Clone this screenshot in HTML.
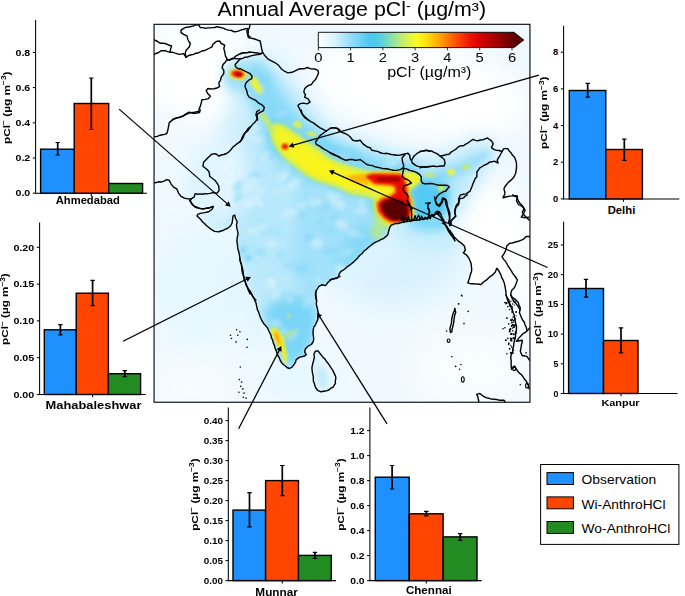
<!DOCTYPE html>
<html><head><meta charset="utf-8"><title>Annual Average pCl</title>
<style>html,body{margin:0;padding:0;background:#fff}svg{display:block}</style></head>
<body>
<svg width="685" height="596" viewBox="0 0 685 596" font-family="Liberation Sans, sans-serif" fill="#000">
<rect width="685" height="596" fill="#fff"/>
<defs><clipPath id="mc"><rect x="154.05" y="24.3" width="375.9" height="377.95"/></clipPath>
<filter id="b14" x="-50%" y="-50%" width="200%" height="200%" filterUnits="objectBoundingBox"><feGaussianBlur stdDeviation="14"/></filter>
<filter id="b9" x="-50%" y="-50%" width="200%" height="200%" filterUnits="objectBoundingBox"><feGaussianBlur stdDeviation="9"/></filter>
<filter id="b6" x="-50%" y="-50%" width="200%" height="200%" filterUnits="objectBoundingBox"><feGaussianBlur stdDeviation="6"/></filter>
<filter id="b4" x="-50%" y="-50%" width="200%" height="200%" filterUnits="objectBoundingBox"><feGaussianBlur stdDeviation="4"/></filter>
<filter id="b3" x="-50%" y="-50%" width="200%" height="200%" filterUnits="objectBoundingBox"><feGaussianBlur stdDeviation="3"/></filter>
<filter id="b2" x="-50%" y="-50%" width="200%" height="200%" filterUnits="objectBoundingBox"><feGaussianBlur stdDeviation="2"/></filter>
<filter id="b15" x="-50%" y="-50%" width="200%" height="200%" filterUnits="objectBoundingBox"><feGaussianBlur stdDeviation="1.5"/></filter>
<filter id="b1" x="-50%" y="-50%" width="200%" height="200%" filterUnits="objectBoundingBox"><feGaussianBlur stdDeviation="1"/></filter>
<filter id="b07" x="-50%" y="-50%" width="200%" height="200%" filterUnits="objectBoundingBox"><feGaussianBlur stdDeviation="0.7"/></filter>
<mask id="lm" maskUnits="userSpaceOnUse" x="150" y="20" width="385" height="386"><g filter="url(#b1)"><path d="M154.2 183.0L158.4 181.8L163.4 181.3L166.8 179.6L169.3 180.5L171.0 183.8L173.5 187.2L176.8 188.9L178.5 193.1L181.0 196.4L184.4 198.1L187.8 198.9L191.1 198.9L190.3 201.4L191.9 204.0L194.5 206.5L198.7 208.2L203.7 209.0L208.7 208.2L212.9 206.5L189.4 200.0L191.1 202.5L192.8 205.0L196.1 207.6L200.3 208.4L205.4 208.4L209.6 207.6L213.4 206.4L212.1 209.2L208.7 211.7L204.5 212.6L200.3 213.4L197.8 214.3L197.0 215.9L198.7 217.6L201.2 220.1L204.5 223.5L207.9 226.8L211.2 229.4L214.6 231.4L218.8 231.9L223.0 230.5L227.2 228.5L230.5 226.0L232.2 222.7L232.6 219.3L233.1 215.9L234.7 215.1L235.6 218.5L237.2 221.8L236.4 225.2L237.2 229.4L238.1 233.6L237.2 237.8L236.9 241.9L237.6 247.0L238.9 252.0L239.8 257.0L240.6 262.1L241.9 267.1L243.1 272.1L244.0 277.2L245.3 282.2L247.3 287.2L249.0 291.4L250.0 294.0L249.2 290.0L251.7 294.2L254.3 298.4L255.9 302.6L256.8 306.8L258.5 311.8L260.1 316.8L262.7 321.9L266.0 326.1L268.5 330.3L271.0 335.3L272.7 340.3L274.4 345.4L276.1 350.4L277.8 355.4L280.3 360.5L283.6 364.7L287.0 367.5L289.5 368.5L292.0 367.2L294.5 363.8L296.2 359.6L299.6 357.1L303.8 356.3L306.3 354.6L304.6 352.1L305.4 348.7L308.0 346.2L311.3 344.5L313.0 342.0L313.5 337.0L313.0 331.9L313.8 326.9L316.3 322.7L318.0 318.5L318.5 313.5L317.5 308.5L316.3 303.4L316.3 298.4L315.8 294.2L316.3 290.0L316.3 300.0L315.5 295.6L316.3 290.6L318.9 286.4L322.2 284.7L325.6 285.6L328.1 282.2L332.3 278.9L336.5 278.0L340.0 276.3L330.0 279.7L334.2 278.9L338.4 277.2L339.2 273.8L340.9 271.3L345.1 268.8L349.3 265.4L353.5 262.1L357.7 257.9L361.9 253.7L366.1 249.5L371.1 245.3L376.1 241.9L381.2 239.4L385.4 236.9L387.9 234.4L388.7 231.0L389.6 227.7L391.2 225.2L395.4 223.5L400.5 222.7L404.7 221.8L408.9 221.0L413.9 220.1L418.9 219.8L424.0 219.3L430.0 217.6L431.6 215.3L437.4 213.3L441.2 218.2L444.1 223.0L447.0 226.8L449.9 230.7L452.8 234.6L455.7 238.4L458.6 241.3L461.5 243.2L464.4 246.1L465.3 250.0L463.4 252.9L466.3 254.8L469.2 258.7L471.1 263.5L471.7 269.3L470.5 274.1L469.2 278.9L467.8 282.8L471.1 283.8L476.0 284.1L480.8 284.7L483.7 281.8L486.6 279.9L489.5 277.0L492.4 275.1L495.2 272.2L496.8 268.3L499.1 271.2L501.0 275.1L503.0 279.9L504.9 285.7L505.9 291.5L506.8 297.3L508.8 303.0L511.6 307.9L512.6 310.0L505.9 295.0L508.8 299.8L510.7 305.6L512.6 311.4L514.5 317.2L515.5 323.0L516.5 328.8L515.5 334.6L514.5 340.3L513.6 346.1L512.6 351.9L510.7 357.7L511.1 363.5L511.6 369.3L514.5 366.4L516.5 369.3L519.4 373.1L523.2 377.0L526.1 380.9L528.0 384.7L529.0 388.6L531.0 389.0L531.0 23.0L153.0 23.0L153.0 183.0Z" fill="#fff"/><path d="M315.9 351.0L318.1 351.0L320.4 354.0L323.4 357.8L326.4 361.5L329.5 365.3L332.5 369.8L334.7 374.4L335.8 378.9L335.5 383.4L333.2 387.2L329.5 389.5L324.9 391.0L321.1 391.8L318.1 390.7L315.9 388.0L314.4 383.4L313.3 378.9L312.8 374.4L312.1 369.8L312.4 365.3L313.6 360.8L314.4 357.0L313.9 354.0L315.1 351.7L315.9 351.0Z" fill="#fff"/></g></mask>
</defs>
<g clip-path="url(#mc)">
<rect x="153" y="23.3" width="378" height="380" fill="#eff9ff"/>
<g filter="url(#b14)">
<ellipse cx="405" cy="262" rx="62" ry="42" fill="#d9f2fd" fill-opacity="1" transform="rotate(-20 405 262)"/>
<ellipse cx="200" cy="285" rx="50" ry="60" fill="#e6f7fe" fill-opacity="1" transform="rotate(0 200 285)"/>
<ellipse cx="470" cy="370" rx="60" ry="40" fill="#f8fdff" fill-opacity="1" transform="rotate(0 470 370)"/>
<ellipse cx="190" cy="385" rx="40" ry="25" fill="#f6fcff" fill-opacity="1" transform="rotate(0 190 385)"/>
</g>
<g filter="url(#b9)">
<ellipse cx="425" cy="232" rx="38" ry="18" fill="#c4ecfc" fill-opacity="1" transform="rotate(10 425 232)"/>
<ellipse cx="365" cy="262" rx="40" ry="14" fill="#dcf4fd" fill-opacity="1" transform="rotate(-38 365 262)"/>
<ellipse cx="250" cy="300" rx="14" ry="50" fill="#e2f6fe" fill-opacity="1" transform="rotate(-12 250 300)"/>
<ellipse cx="300" cy="380" rx="35" ry="18" fill="#e6f7fe" fill-opacity="1" transform="rotate(0 300 380)"/>
</g>
<g filter="url(#b4)"><ellipse cx="428" cy="222" rx="22" ry="9" fill="#7ed8f8" fill-opacity="1" transform="rotate(5 428 222)"/></g>
<g mask="url(#lm)">
<g filter="url(#b14)">
<ellipse cx="200" cy="70" rx="60" ry="50" fill="#ffffff" fill-opacity="1" transform="rotate(0 200 70)"/>
<ellipse cx="420" cy="90" rx="110" ry="45" fill="#ffffff" fill-opacity="1" transform="rotate(10 420 90)"/>
<ellipse cx="490" cy="260" rx="45" ry="80" fill="#ffffff" fill-opacity="1" transform="rotate(0 490 260)"/>
<ellipse cx="430" cy="350" rx="70" ry="50" fill="#f8fdff" fill-opacity="1" transform="rotate(0 430 350)"/>
<path d="M240.0 62.0L262.0 58.0L300.0 100.0L325.0 135.0L400.0 160.0L440.0 165.0L480.0 140.0L492.0 150.0L470.0 185.0L450.0 222.0L435.0 215.0L400.0 228.0L380.0 243.0L350.0 272.0L322.0 292.0L318.0 320.0L314.0 345.0L300.0 362.0L290.0 370.0L280.0 362.0L268.0 330.0L255.0 295.0L240.0 260.0L235.0 225.0L225.0 232.0L200.0 215.0L215.0 200.0L195.0 195.0L215.0 150.0L240.0 140.0L258.0 115.0L245.0 90.0Z" fill="#b4e7fb" fill-opacity="1"/>
</g>
<g filter="url(#b3)"><ellipse cx="322" cy="378" rx="6" ry="12" fill="#c0eafb" fill-opacity="1" transform="rotate(-15 322 378)"/></g>
<g filter="url(#b9)">
<path d="M235.0 70.0L255.0 85.0L262.0 115.0L240.0 140.0L215.0 170.0L200.0 195.0L190.0 190.0L205.0 160.0L225.0 125.0L232.0 95.0Z" fill="#cfeffc" fill-opacity="1"/>
<path d="M240.0 62.0L262.0 58.0L300.0 100.0L325.0 135.0L400.0 160.0L440.0 165.0L480.0 140.0L492.0 150.0L470.0 185.0L450.0 222.0L435.0 215.0L400.0 228.0L380.0 243.0L350.0 272.0L322.0 292.0L318.0 320.0L314.0 345.0L300.0 362.0L290.0 370.0L280.0 362.0L268.0 330.0L255.0 295.0L240.0 260.0L235.0 225.0L225.0 232.0L200.0 215.0L215.0 200.0L195.0 195.0L215.0 150.0L240.0 140.0L258.0 115.0L245.0 90.0Z" fill="#b9e9fb" fill-opacity="0.8"/>
<ellipse cx="222" cy="180" rx="26" ry="42" fill="#e6f7fe" fill-opacity="0.9" transform="rotate(10 222 180)"/>
<path d="M330.0 285.0L360.0 262.0L390.0 235.0L430.0 225.0L450.0 240.0L440.0 270.0L400.0 290.0L360.0 310.0Z" fill="#d5f2fd" fill-opacity="1"/>
</g>
<g filter="url(#b6)">
<path d="M238.0 62.0L262.0 62.0L285.0 98.0L300.0 118.0L318.0 135.0L300.0 150.0L280.0 160.0L268.0 150.0L262.0 125.0L250.0 100.0L240.0 82.0Z" fill="#8adaf8" fill-opacity="1"/>
<path d="M300.0 180.0L340.0 195.0L375.0 205.0L385.0 232.0L372.0 250.0L350.0 270.0L330.0 285.0L318.0 300.0L300.0 290.0L290.0 260.0L295.0 225.0Z" fill="#a2e1fa" fill-opacity="1"/>
<ellipse cx="234" cy="78" rx="11" ry="13" fill="#9adff9" fill-opacity="1" transform="rotate(-20 234 78)"/>
<path d="M300.0 118.0L330.0 140.0L380.0 160.0L420.0 165.0L425.0 175.0L400.0 172.0L360.0 168.0L330.0 158.0L305.0 140.0Z" fill="#7cd6f7" fill-opacity="1"/>
<path d="M262.0 310.0L285.0 296.0L312.0 298.0L318.0 320.0L312.0 345.0L300.0 362.0L290.0 368.0L280.0 358.0Z" fill="#7ad5f7" fill-opacity="1"/>
<path d="M355.0 225.0L385.0 228.0L380.0 245.0L350.0 268.0L335.0 262.0Z" fill="#84d9f8" fill-opacity="1"/>
<ellipse cx="243" cy="250" rx="4" ry="8" fill="#8adaf8" fill-opacity="1" transform="rotate(0 243 250)"/>
</g>
<g filter="url(#b2)"><ellipse cx="248" cy="258" rx="2.5" ry="2.5" fill="#50c8f4" fill-opacity="1" transform="rotate(0 248 258)"/><ellipse cx="243" cy="250" rx="2" ry="2" fill="#50c8f4" fill-opacity="1" transform="rotate(0 243 250)"/></g>
<g filter="url(#b2)"><ellipse cx="330.4" cy="231.2" rx="8.5" ry="3.4" fill="#6fd2f7" fill-opacity="0.2" transform="rotate(-14 330.4 231.2)"/><ellipse cx="347.1" cy="252.1" rx="7.8" ry="2.3" fill="#ffffff" fill-opacity="0.36" transform="rotate(-33 347.1 252.1)"/><ellipse cx="247.6" cy="69.0" rx="6.2" ry="2.2" fill="#ffffff" fill-opacity="0.19" transform="rotate(-43 247.6 69.0)"/><ellipse cx="333.6" cy="195.7" rx="8.1" ry="3.6" fill="#ffffff" fill-opacity="0.33" transform="rotate(-2 333.6 195.7)"/><ellipse cx="331.8" cy="147.3" rx="9.0" ry="5.0" fill="#6fd2f7" fill-opacity="0.23" transform="rotate(16 331.8 147.3)"/><ellipse cx="267.9" cy="150.6" rx="3.4" ry="4.3" fill="#6fd2f7" fill-opacity="0.25" transform="rotate(-24 267.9 150.6)"/><ellipse cx="227.8" cy="163.5" rx="8.8" ry="4.3" fill="#ffffff" fill-opacity="0.2" transform="rotate(-49 227.8 163.5)"/><ellipse cx="253.3" cy="231.1" rx="5.7" ry="2.6" fill="#ffffff" fill-opacity="0.32" transform="rotate(6 253.3 231.1)"/><ellipse cx="236.1" cy="189.8" rx="4.3" ry="2.8" fill="#6fd2f7" fill-opacity="0.23" transform="rotate(27 236.1 189.8)"/><ellipse cx="275.9" cy="294.6" rx="5.0" ry="2.9" fill="#ffffff" fill-opacity="0.31" transform="rotate(-53 275.9 294.6)"/><ellipse cx="271.6" cy="243.6" rx="5.2" ry="3.4" fill="#ffffff" fill-opacity="0.31" transform="rotate(26 271.6 243.6)"/><ellipse cx="372.8" cy="190.0" rx="3.6" ry="2.1" fill="#ffffff" fill-opacity="0.34" transform="rotate(27 372.8 190.0)"/><ellipse cx="275.5" cy="309.8" rx="6.6" ry="2.9" fill="#6fd2f7" fill-opacity="0.17" transform="rotate(-44 275.5 309.8)"/><ellipse cx="267.5" cy="231.1" rx="8.1" ry="3.8" fill="#6fd2f7" fill-opacity="0.2" transform="rotate(-35 267.5 231.1)"/><ellipse cx="252.9" cy="174.3" rx="6.4" ry="2.4" fill="#6fd2f7" fill-opacity="0.4" transform="rotate(-27 252.9 174.3)"/><ellipse cx="382.0" cy="208.1" rx="7.4" ry="3.0" fill="#ffffff" fill-opacity="0.3" transform="rotate(30 382.0 208.1)"/><ellipse cx="302.2" cy="268.5" rx="8.4" ry="4.6" fill="#6fd2f7" fill-opacity="0.37" transform="rotate(-22 302.2 268.5)"/><ellipse cx="310.7" cy="238.0" rx="6.7" ry="2.2" fill="#6fd2f7" fill-opacity="0.37" transform="rotate(-2 310.7 238.0)"/><ellipse cx="407.8" cy="180.2" rx="7.4" ry="3.7" fill="#6fd2f7" fill-opacity="0.17" transform="rotate(-20 407.8 180.2)"/><ellipse cx="372.2" cy="207.7" rx="4.4" ry="4.1" fill="#6fd2f7" fill-opacity="0.38" transform="rotate(-15 372.2 207.7)"/><ellipse cx="287.9" cy="266.5" rx="4.2" ry="2.5" fill="#6fd2f7" fill-opacity="0.26" transform="rotate(22 287.9 266.5)"/><ellipse cx="311.3" cy="238.2" rx="4.9" ry="2.4" fill="#6fd2f7" fill-opacity="0.36" transform="rotate(-15 311.3 238.2)"/><ellipse cx="281.1" cy="114.9" rx="5.7" ry="2.8" fill="#ffffff" fill-opacity="0.32" transform="rotate(-41 281.1 114.9)"/><ellipse cx="342.0" cy="158.4" rx="8.0" ry="4.9" fill="#ffffff" fill-opacity="0.19" transform="rotate(-19 342.0 158.4)"/><ellipse cx="290.1" cy="300.2" rx="3.1" ry="2.4" fill="#ffffff" fill-opacity="0.36" transform="rotate(-19 290.1 300.2)"/><ellipse cx="270.0" cy="106.5" rx="3.3" ry="3.9" fill="#6fd2f7" fill-opacity="0.31" transform="rotate(-20 270.0 106.5)"/><ellipse cx="279.8" cy="167.5" rx="7.2" ry="3.6" fill="#6fd2f7" fill-opacity="0.25" transform="rotate(-5 279.8 167.5)"/><ellipse cx="330.7" cy="250.8" rx="8.5" ry="3.1" fill="#6fd2f7" fill-opacity="0.35" transform="rotate(-9 330.7 250.8)"/><ellipse cx="293.3" cy="335.5" rx="8.1" ry="3.0" fill="#ffffff" fill-opacity="0.3" transform="rotate(-53 293.3 335.5)"/><ellipse cx="419.1" cy="209.7" rx="3.2" ry="4.4" fill="#6fd2f7" fill-opacity="0.19" transform="rotate(-54 419.1 209.7)"/><ellipse cx="297.4" cy="299.2" rx="3.8" ry="2.4" fill="#6fd2f7" fill-opacity="0.36" transform="rotate(-14 297.4 299.2)"/><ellipse cx="351.2" cy="150.9" rx="7.4" ry="3.9" fill="#6fd2f7" fill-opacity="0.29" transform="rotate(-13 351.2 150.9)"/><ellipse cx="290.9" cy="178.0" rx="8.1" ry="4.7" fill="#6fd2f7" fill-opacity="0.39" transform="rotate(-41 290.9 178.0)"/><ellipse cx="350.6" cy="235.1" rx="4.2" ry="3.6" fill="#6fd2f7" fill-opacity="0.16" transform="rotate(-15 350.6 235.1)"/><ellipse cx="361.4" cy="210.7" rx="7.1" ry="2.2" fill="#ffffff" fill-opacity="0.39" transform="rotate(-12 361.4 210.7)"/><ellipse cx="292.4" cy="121.5" rx="6.7" ry="4.8" fill="#6fd2f7" fill-opacity="0.16" transform="rotate(-48 292.4 121.5)"/><ellipse cx="257.9" cy="132.2" rx="7.1" ry="3.0" fill="#6fd2f7" fill-opacity="0.18" transform="rotate(-28 257.9 132.2)"/><ellipse cx="258.9" cy="222.4" rx="5.6" ry="3.1" fill="#6fd2f7" fill-opacity="0.19" transform="rotate(-23 258.9 222.4)"/><ellipse cx="260.7" cy="252.5" rx="6.8" ry="3.6" fill="#6fd2f7" fill-opacity="0.36" transform="rotate(17 260.7 252.5)"/><ellipse cx="268.7" cy="285.1" rx="7.9" ry="4.7" fill="#ffffff" fill-opacity="0.38" transform="rotate(-32 268.7 285.1)"/><ellipse cx="270.6" cy="280.9" rx="4.6" ry="2.3" fill="#ffffff" fill-opacity="0.35" transform="rotate(15 270.6 280.9)"/><ellipse cx="238.8" cy="184.5" rx="7.1" ry="2.1" fill="#6fd2f7" fill-opacity="0.38" transform="rotate(-42 238.8 184.5)"/><ellipse cx="256.4" cy="85.5" rx="3.6" ry="2.1" fill="#6fd2f7" fill-opacity="0.29" transform="rotate(-10 256.4 85.5)"/><ellipse cx="334.5" cy="218.0" rx="5.6" ry="3.8" fill="#6fd2f7" fill-opacity="0.36" transform="rotate(-59 334.5 218.0)"/><ellipse cx="254.3" cy="199.7" rx="7.4" ry="3.2" fill="#ffffff" fill-opacity="0.29" transform="rotate(-42 254.3 199.7)"/><ellipse cx="316.9" cy="243.1" rx="6.0" ry="4.9" fill="#ffffff" fill-opacity="0.38" transform="rotate(12 316.9 243.1)"/><ellipse cx="432.1" cy="185.3" rx="8.4" ry="4.6" fill="#6fd2f7" fill-opacity="0.34" transform="rotate(3 432.1 185.3)"/><ellipse cx="317.3" cy="279.7" rx="3.4" ry="3.0" fill="#ffffff" fill-opacity="0.26" transform="rotate(-18 317.3 279.7)"/><ellipse cx="390.4" cy="165.1" rx="7.0" ry="3.7" fill="#ffffff" fill-opacity="0.4" transform="rotate(-12 390.4 165.1)"/><ellipse cx="258.3" cy="176.4" rx="3.6" ry="2.8" fill="#6fd2f7" fill-opacity="0.28" transform="rotate(22 258.3 176.4)"/><ellipse cx="248.3" cy="205.0" rx="4.0" ry="3.5" fill="#ffffff" fill-opacity="0.39" transform="rotate(-5 248.3 205.0)"/><ellipse cx="321.5" cy="221.4" rx="6.6" ry="3.1" fill="#6fd2f7" fill-opacity="0.29" transform="rotate(-34 321.5 221.4)"/><ellipse cx="283.0" cy="277.9" rx="4.8" ry="2.0" fill="#ffffff" fill-opacity="0.21" transform="rotate(-38 283.0 277.9)"/><ellipse cx="415.2" cy="180.6" rx="8.4" ry="4.2" fill="#6fd2f7" fill-opacity="0.39" transform="rotate(-55 415.2 180.6)"/><ellipse cx="324.0" cy="206.7" rx="8.8" ry="2.7" fill="#6fd2f7" fill-opacity="0.33" transform="rotate(-13 324.0 206.7)"/><ellipse cx="238.3" cy="196.4" rx="7.0" ry="3.4" fill="#6fd2f7" fill-opacity="0.25" transform="rotate(-36 238.3 196.4)"/><ellipse cx="304.2" cy="145.4" rx="7.1" ry="3.7" fill="#6fd2f7" fill-opacity="0.34" transform="rotate(-7 304.2 145.4)"/><ellipse cx="256.7" cy="138.6" rx="8.9" ry="4.7" fill="#ffffff" fill-opacity="0.19" transform="rotate(19 256.7 138.6)"/><ellipse cx="279.4" cy="191.1" rx="6.7" ry="2.3" fill="#ffffff" fill-opacity="0.2" transform="rotate(-11 279.4 191.1)"/><ellipse cx="380.6" cy="175.6" rx="5.9" ry="2.6" fill="#6fd2f7" fill-opacity="0.36" transform="rotate(-29 380.6 175.6)"/><ellipse cx="322.5" cy="141.4" rx="7.9" ry="3.1" fill="#6fd2f7" fill-opacity="0.23" transform="rotate(-1 322.5 141.4)"/><ellipse cx="339.5" cy="268.6" rx="4.8" ry="4.3" fill="#ffffff" fill-opacity="0.33" transform="rotate(-53 339.5 268.6)"/><ellipse cx="226.3" cy="155.0" rx="7.3" ry="4.1" fill="#ffffff" fill-opacity="0.26" transform="rotate(-35 226.3 155.0)"/><ellipse cx="407.2" cy="173.6" rx="3.7" ry="4.1" fill="#6fd2f7" fill-opacity="0.38" transform="rotate(-9 407.2 173.6)"/><ellipse cx="292.6" cy="183.5" rx="8.6" ry="4.7" fill="#ffffff" fill-opacity="0.26" transform="rotate(-38 292.6 183.5)"/><ellipse cx="305.4" cy="182.3" rx="5.3" ry="2.6" fill="#6fd2f7" fill-opacity="0.29" transform="rotate(-9 305.4 182.3)"/><ellipse cx="356.2" cy="233.5" rx="8.8" ry="4.0" fill="#ffffff" fill-opacity="0.3" transform="rotate(12 356.2 233.5)"/><ellipse cx="272.3" cy="130.2" rx="7.6" ry="3.6" fill="#ffffff" fill-opacity="0.25" transform="rotate(9 272.3 130.2)"/><ellipse cx="342.0" cy="224.5" rx="7.3" ry="4.1" fill="#ffffff" fill-opacity="0.36" transform="rotate(22 342.0 224.5)"/><ellipse cx="383.1" cy="220.5" rx="7.3" ry="4.4" fill="#ffffff" fill-opacity="0.21" transform="rotate(-22 383.1 220.5)"/><ellipse cx="260.8" cy="191.1" rx="4.8" ry="4.9" fill="#ffffff" fill-opacity="0.21" transform="rotate(-55 260.8 191.1)"/><ellipse cx="253.8" cy="83.1" rx="5.8" ry="3.8" fill="#ffffff" fill-opacity="0.2" transform="rotate(22 253.8 83.1)"/><ellipse cx="255.2" cy="129.2" rx="4.4" ry="4.2" fill="#ffffff" fill-opacity="0.22" transform="rotate(-6 255.2 129.2)"/><ellipse cx="282.3" cy="115.9" rx="7.5" ry="2.9" fill="#6fd2f7" fill-opacity="0.27" transform="rotate(-11 282.3 115.9)"/><ellipse cx="276.5" cy="328.8" rx="8.5" ry="3.0" fill="#6fd2f7" fill-opacity="0.27" transform="rotate(-11 276.5 328.8)"/><ellipse cx="265.4" cy="79.3" rx="8.7" ry="4.4" fill="#6fd2f7" fill-opacity="0.28" transform="rotate(-25 265.4 79.3)"/><ellipse cx="307.7" cy="301.8" rx="7.3" ry="3.8" fill="#ffffff" fill-opacity="0.25" transform="rotate(-46 307.7 301.8)"/><ellipse cx="276.2" cy="323.4" rx="6.1" ry="3.9" fill="#ffffff" fill-opacity="0.3" transform="rotate(29 276.2 323.4)"/><ellipse cx="338.2" cy="204.1" rx="8.7" ry="3.8" fill="#ffffff" fill-opacity="0.35" transform="rotate(17 338.2 204.1)"/><ellipse cx="261.9" cy="226.3" rx="6.2" ry="2.5" fill="#ffffff" fill-opacity="0.25" transform="rotate(15 261.9 226.3)"/><ellipse cx="224.7" cy="155.5" rx="5.8" ry="4.1" fill="#6fd2f7" fill-opacity="0.18" transform="rotate(-28 224.7 155.5)"/><ellipse cx="314.1" cy="202.0" rx="8.8" ry="4.5" fill="#ffffff" fill-opacity="0.26" transform="rotate(-1 314.1 202.0)"/><ellipse cx="361.8" cy="200.9" rx="3.1" ry="5.0" fill="#ffffff" fill-opacity="0.32" transform="rotate(12 361.8 200.9)"/><ellipse cx="284.9" cy="176.5" rx="6.2" ry="2.9" fill="#ffffff" fill-opacity="0.33" transform="rotate(-30 284.9 176.5)"/><ellipse cx="275.4" cy="124.0" rx="7.4" ry="3.0" fill="#6fd2f7" fill-opacity="0.33" transform="rotate(25 275.4 124.0)"/><ellipse cx="296.5" cy="310.8" rx="3.6" ry="2.4" fill="#6fd2f7" fill-opacity="0.33" transform="rotate(-52 296.5 310.8)"/><ellipse cx="253.9" cy="184.3" rx="8.0" ry="3.8" fill="#ffffff" fill-opacity="0.21" transform="rotate(-52 253.9 184.3)"/><ellipse cx="238.2" cy="185.7" rx="3.4" ry="4.8" fill="#6fd2f7" fill-opacity="0.31" transform="rotate(-22 238.2 185.7)"/><ellipse cx="311.7" cy="163.2" rx="5.5" ry="2.0" fill="#6fd2f7" fill-opacity="0.4" transform="rotate(-24 311.7 163.2)"/><ellipse cx="296.3" cy="166.4" rx="6.9" ry="2.3" fill="#6fd2f7" fill-opacity="0.35" transform="rotate(-26 296.3 166.4)"/><ellipse cx="302.4" cy="213.5" rx="3.9" ry="4.1" fill="#6fd2f7" fill-opacity="0.33" transform="rotate(29 302.4 213.5)"/><ellipse cx="258.9" cy="89.3" rx="4.5" ry="3.7" fill="#ffffff" fill-opacity="0.38" transform="rotate(3 258.9 89.3)"/><ellipse cx="304.8" cy="202.4" rx="3.7" ry="4.9" fill="#6fd2f7" fill-opacity="0.29" transform="rotate(-48 304.8 202.4)"/><ellipse cx="360.8" cy="231.4" rx="4.6" ry="4.7" fill="#6fd2f7" fill-opacity="0.3" transform="rotate(29 360.8 231.4)"/><ellipse cx="284.4" cy="331.6" rx="4.4" ry="3.7" fill="#ffffff" fill-opacity="0.3" transform="rotate(15 284.4 331.6)"/><ellipse cx="289.8" cy="264.4" rx="7.4" ry="3.1" fill="#6fd2f7" fill-opacity="0.15" transform="rotate(-7 289.8 264.4)"/><ellipse cx="259.4" cy="203.9" rx="3.9" ry="3.2" fill="#ffffff" fill-opacity="0.29" transform="rotate(-9 259.4 203.9)"/><ellipse cx="277.4" cy="233.7" rx="5.0" ry="3.9" fill="#6fd2f7" fill-opacity="0.19" transform="rotate(-57 277.4 233.7)"/><ellipse cx="335.3" cy="187.0" rx="6.7" ry="4.1" fill="#6fd2f7" fill-opacity="0.27" transform="rotate(8 335.3 187.0)"/><ellipse cx="443.4" cy="186.3" rx="5.6" ry="3.7" fill="#6fd2f7" fill-opacity="0.28" transform="rotate(21 443.4 186.3)"/><ellipse cx="238.3" cy="197.6" rx="6.0" ry="3.2" fill="#6fd2f7" fill-opacity="0.28" transform="rotate(-55 238.3 197.6)"/><ellipse cx="270.5" cy="155.7" rx="5.4" ry="2.7" fill="#6fd2f7" fill-opacity="0.39" transform="rotate(-54 270.5 155.7)"/><ellipse cx="265.6" cy="286.9" rx="6.4" ry="4.7" fill="#6fd2f7" fill-opacity="0.18" transform="rotate(-51 265.6 286.9)"/><ellipse cx="287.4" cy="161.2" rx="3.4" ry="4.7" fill="#ffffff" fill-opacity="0.26" transform="rotate(13 287.4 161.2)"/><ellipse cx="289.8" cy="212.9" rx="8.6" ry="4.9" fill="#ffffff" fill-opacity="0.24" transform="rotate(-17 289.8 212.9)"/><ellipse cx="302.8" cy="205.2" rx="4.0" ry="4.6" fill="#ffffff" fill-opacity="0.32" transform="rotate(30 302.8 205.2)"/><ellipse cx="266.1" cy="156.0" rx="7.3" ry="2.6" fill="#ffffff" fill-opacity="0.33" transform="rotate(-44 266.1 156.0)"/><ellipse cx="425.3" cy="175.4" rx="7.0" ry="4.7" fill="#ffffff" fill-opacity="0.25" transform="rotate(-7 425.3 175.4)"/><ellipse cx="281.1" cy="255.1" rx="3.5" ry="4.9" fill="#6fd2f7" fill-opacity="0.28" transform="rotate(-20 281.1 255.1)"/><ellipse cx="283.3" cy="139.2" rx="7.8" ry="2.3" fill="#6fd2f7" fill-opacity="0.21" transform="rotate(-34 283.3 139.2)"/></g>
<g filter="url(#b4)">
<path d="M408.0 178.0L440.0 178.0L450.0 190.0L446.0 215.0L435.0 222.0L410.0 222.0L404.0 200.0Z" fill="#52c9f4" fill-opacity="1"/>
<path d="M425.0 172.0L450.0 168.0L470.0 160.0L488.0 149.0L492.0 154.0L472.0 168.0L452.0 178.0L432.0 186.0Z" fill="#8cdaf8" fill-opacity="1"/>
</g>
<g filter="url(#b4)"><path d="M274.0 125.0L283.0 127.0L292.0 133.0L300.0 138.5L307.0 144.0L318.0 151.0L325.0 157.5L335.0 163.0L348.0 167.5L363.0 172.0L372.0 173.5L402.0 173.0L407.0 176.0L412.0 177.5L416.0 180.0L414.0 185.0L409.0 187.5L406.5 191.0L408.0 197.0L410.5 204.0L411.5 213.0L410.0 221.0L401.0 225.0L391.0 225.0L384.0 221.0L378.0 213.0L375.5 204.0L378.0 199.0L372.0 196.0L363.0 193.5L350.0 191.5L337.0 185.0L325.0 181.5L315.0 178.0L305.0 172.5L296.0 165.0L287.0 158.0L280.0 150.0L275.0 142.0L272.0 132.0Z" fill="#6ad0f6" stroke="#6ad0f6" stroke-width="9" stroke-linejoin="round"/></g>
<g filter="url(#b2)"><path d="M274.0 125.0L283.0 127.0L292.0 133.0L300.0 138.5L307.0 144.0L318.0 151.0L325.0 157.5L335.0 163.0L348.0 167.5L363.0 172.0L372.0 173.5L402.0 173.0L407.0 176.0L412.0 177.5L416.0 180.0L414.0 185.0L409.0 187.5L406.5 191.0L408.0 197.0L410.5 204.0L411.5 213.0L410.0 221.0L401.0 225.0L391.0 225.0L384.0 221.0L378.0 213.0L375.5 204.0L378.0 199.0L372.0 196.0L363.0 193.5L350.0 191.5L337.0 185.0L325.0 181.5L315.0 178.0L305.0 172.5L296.0 165.0L287.0 158.0L280.0 150.0L275.0 142.0L272.0 132.0Z" fill="#a8e8a0" stroke="#a8e8a0" stroke-width="3" stroke-linejoin="round"/></g>
<g filter="url(#b3)"><path d="M377.0 200.0L384.0 196.0L396.0 195.0L407.0 198.0L411.0 206.0L412.0 216.0L410.0 223.0L398.0 227.0L388.0 227.0L380.0 232.0L374.0 238.0L370.0 232.0L375.0 222.0L374.0 210.0Z" fill="#b4ea8c"/></g>
<g filter="url(#b15)"><path d="M274.0 125.0L283.0 127.0L292.0 133.0L300.0 138.5L307.0 144.0L318.0 151.0L325.0 157.5L335.0 163.0L348.0 167.5L363.0 172.0L372.0 173.5L402.0 173.0L407.0 176.0L412.0 177.5L416.0 180.0L414.0 185.0L409.0 187.5L406.5 191.0L408.0 197.0L410.5 204.0L411.5 213.0L410.0 221.0L401.0 225.0L391.0 225.0L384.0 221.0L378.0 213.0L375.5 204.0L378.0 199.0L372.0 196.0L363.0 193.5L350.0 191.5L337.0 185.0L325.0 181.5L315.0 178.0L305.0 172.5L296.0 165.0L287.0 158.0L280.0 150.0L275.0 142.0L272.0 132.0Z" fill="#c6ec62" stroke="#c6ec62" stroke-width="1.5" stroke-linejoin="round"/></g>
<g filter="url(#b3)"><path d="M274.0 125.0L283.0 127.0L292.0 133.0L300.0 138.5L307.0 144.0L318.0 151.0L325.0 157.5L335.0 163.0L348.0 167.5L363.0 172.0L372.0 173.5L402.0 173.0L407.0 176.0L412.0 177.5L416.0 180.0L414.0 185.0L409.0 187.5L406.5 191.0L408.0 197.0L410.5 204.0L411.5 213.0L410.0 221.0L401.0 225.0L391.0 225.0L384.0 221.0L378.0 213.0L375.5 204.0L378.0 199.0L372.0 196.0L363.0 193.5L350.0 191.5L337.0 185.0L325.0 181.5L315.0 178.0L305.0 172.5L296.0 165.0L287.0 158.0L280.0 150.0L275.0 142.0L272.0 132.0Z" fill="#f6f420"/></g>
<g filter="url(#b15)">
<path d="M296.0 150.0L315.0 158.0L340.0 170.0L365.0 178.0L366.0 186.0L345.0 184.0L320.0 176.0L300.0 163.0Z" fill="#f8f41c" fill-opacity="1"/>
<path d="M260.0 112.3L263.5 112.8L269.3 120.5L274.5 131.5L271.7 133.4L265.8 124.0L260.0 115.8Z" fill="#c4ec68" fill-opacity="1"/>
<ellipse cx="297.5" cy="124.5" rx="4.5" ry="3.2" fill="#dcf04c" fill-opacity="1" transform="rotate(25 297.5 124.5)"/>
<ellipse cx="311.5" cy="134" rx="5.5" ry="2" fill="#dcf04c" fill-opacity="1" transform="rotate(15 311.5 134)"/>
<path d="M250.0 78.0L254.5 76.0L258.0 80.5L261.0 87.0L262.5 93.0L259.5 94.0L255.0 89.0L251.0 84.5Z" fill="#e4f040" fill-opacity="1"/>
<ellipse cx="255" cy="85.5" rx="2" ry="3" fill="#f6f520" fill-opacity="1" transform="rotate(-30 255 85.5)"/>
<path d="M270.7 328.3L274.4 327.2L277.8 329.4L281.1 334.5L284.0 340.3L285.3 347.0L287.0 355.4L286.6 362.1L284.5 363.8L282.8 357.1L280.3 350.4L276.9 345.4L273.6 340.3L271.5 334.5Z" fill="#f2f226" fill-opacity="1"/>
<path d="M281.0 337.0L295.0 329.0L296.0 331.0L283.0 340.0Z" fill="#b8e878" fill-opacity="1"/>
<ellipse cx="288.7" cy="315.5" rx="2.2" ry="1.6" fill="#c0ea70" fill-opacity="1" transform="rotate(0 288.7 315.5)"/>
<ellipse cx="377.8" cy="235.5" rx="2.5" ry="3" fill="#c0ea70" fill-opacity="1" transform="rotate(0 377.8 235.5)"/>
<path d="M348.8 189.9L362.8 191.8L376.8 194.6L376.8 196.9L362.8 195.0L348.8 192.2Z" fill="#d4ee58" fill-opacity="1"/>
<path d="M404.0 173.0L412.0 172.0L420.0 175.0L421.0 182.0L414.0 185.0L405.0 184.0Z" fill="#f0f032" fill-opacity="1"/>
<ellipse cx="451" cy="172" rx="4" ry="3" fill="#f0f530" fill-opacity="1" transform="rotate(0 451 172)"/>
<ellipse cx="466" cy="167" rx="4" ry="2" fill="#d0ee50" fill-opacity="1" transform="rotate(-20 466 167)"/>
<ellipse cx="441" cy="188" rx="3" ry="3" fill="#e0f040" fill-opacity="1" transform="rotate(0 441 188)"/>
<ellipse cx="430" cy="175" rx="5" ry="2" fill="#c8ec60" fill-opacity="1" transform="rotate(0 430 175)"/>
</g>
<g filter="url(#b15)">
<path d="M366.3 176.6L372.1 174.5L400.2 175.0L403.0 177.8L405.3 184.8L406.7 194.1L409.5 201.1L410.2 212.8L408.6 218.9L400.2 222.1L391.3 221.2L385.0 217.9L379.6 211.9L378.0 203.9L381.5 199.7L390.8 196.9L396.7 192.2L395.5 185.9L390.8 184.3L374.5 182.9Z" fill="#ffa200" stroke="#ffa200" stroke-width="5" stroke-linejoin="round"/>
<path d="M346.0 176.0L366.0 173.5L368.0 185.0L352.0 181.0Z" fill="#ffb400" fill-opacity="1"/>
<ellipse cx="238" cy="74.3" rx="9.5" ry="5.6" fill="#e6f03c" fill-opacity="1" transform="rotate(8 238 74.3)"/>
<ellipse cx="237.6" cy="74" rx="7.8" ry="4.4" fill="#ffa800" fill-opacity="1" transform="rotate(8 237.6 74)"/>
<ellipse cx="285.1" cy="146.4" rx="3.8" ry="3.4" fill="#ffa000" fill-opacity="1" transform="rotate(0 285.1 146.4)"/>
<path d="M274.1 331.9L276.6 331.6L278.9 336.1L280.3 341.2L281.1 344.5L279.4 345.4L277.2 341.2L274.9 337.0Z" fill="#ff9c08" fill-opacity="1"/>
</g>
<g filter="url(#b1)">
<path d="M366.3 176.6L372.1 174.5L400.2 175.0L403.0 177.8L405.3 184.8L406.7 194.1L409.5 201.1L410.2 212.8L408.6 218.9L400.2 222.1L391.3 221.2L385.0 217.9L379.6 211.9L378.0 203.9L381.5 199.7L390.8 196.9L396.7 192.2L395.5 185.9L390.8 184.3L374.5 182.9Z" fill="#e81000" stroke="#e81000" stroke-width="1" stroke-linejoin="round"/>
<ellipse cx="237.8" cy="74" rx="5.8" ry="3.1" fill="#e81000" fill-opacity="1" transform="rotate(8 237.8 74)"/>
<ellipse cx="285.0" cy="146.4" rx="2.6" ry="2.5" fill="#e81000" fill-opacity="1" transform="rotate(0 285.0 146.4)"/>
</g>
<g filter="url(#b1)">
<path d="M383.8 201.6L390.8 198.8L400.2 200.0L406.0 203.5L408.1 210.5L407.2 217.9L400.2 220.3L392.0 219.8L386.2 216.3L382.0 209.3L381.0 203.9Z" fill="#5a0000"/>
<path d="M376.8 177.3L400.2 177.3L400.2 181.3L378.0 181.3Z" fill="#a00000" fill-opacity="1"/>
<ellipse cx="239" cy="74.4" rx="2.6" ry="1.4" fill="#a00000" fill-opacity="1" transform="rotate(0 239 74.4)"/>
</g>
</g>
<g fill="none" stroke="#000" stroke-width="1.4" stroke-linejoin="round" stroke-linecap="round">
<path d="M154.2 39.8L157.6 41.5L160.1 43.2L162.6 43.2L165.1 43.5L168.5 44.8L171.5 46.0L170.5 49.4L170.1 52.2"/>
<path d="M154.2 54.4L156.2 53.3L158.4 52.7L160.9 50.7L165.1 50.7L167.6 51.6L170.1 52.2L172.7 52.3L175.2 53.2L179.4 54.4L183.6 53.6L185.2 56.1L186.1 57.2"/>
<path d="M186.1 57.2L185.2 53.6L186.1 50.2L187.8 48.5L189.4 46.8L190.3 43.5L188.9 41.5L187.8 39.3L186.9 35.9L183.6 34.3L181.0 32.6L181.0 30.1L183.6 28.4L186.0 27.3L188.6 27.0L191.1 26.5L193.6 25.9L195.0 25.0L198.7 24.7"/>
<path d="M186.1 57.2L189.4 55.2L193.6 54.4L196.0 53.2L198.7 52.7L202.0 51.0L205.4 50.2L208.7 48.5L212.1 46.8L212.9 44.3L214.6 42.9L216.3 41.5L219.6 41.0L221.3 43.5L224.7 45.2L223.8 48.5L224.7 51.9L225.5 56.1L227.2 59.4L229.7 60.3L231.6 58.7L233.9 57.8L236.2 55.8L238.9 54.4L241.4 53.5L244.0 52.7L247.0 52.6L250.0 51.9"/>
<path d="M198.7 24.7L200.3 27.6L202.9 27.6L205.4 28.4L207.6 27.9L209.9 27.9L212.1 27.6L214.7 27.5L217.1 26.7L219.3 27.3L221.6 27.7L223.8 28.4L226.2 29.6L228.9 30.1L231.5 30.5L233.9 31.7L236.5 31.6L238.9 30.9L241.4 29.9L244.0 29.2L247.3 28.4L248.2 30.1L248.3 32.6L247.8 35.1L250.0 36.8"/>
<path d="M227.2 59.4L225.5 61.9L223.0 64.5L222.1 67.8L223.8 70.3L223.8 73.7L221.3 77.0L220.5 80.4L218.8 82.9L219.6 86.3L217.1 88.0L213.8 88.8L210.8 89.0L207.9 88.5L206.2 90.5L207.9 93.8L210.4 96.3L207.9 98.9L205.0 99.4L202.0 99.7L201.2 103.1L200.3 106.4L199.2 108.8L198.7 111.4L194.5 112.3L191.5 112.6L188.6 112.3L186.0 113.9L183.6 115.6L181.4 116.4L179.4 117.3L175.2 118.2L172.7 120.0"/>
<path d="M250.1 24.7L249.2 28.4L246.7 30.9L247.6 34.3L248.4 37.6L252.6 38.5L254.7 39.0L256.8 39.8L260.1 41.0L261.0 45.2L261.8 49.4L262.7 52.7L260.1 54.4L255.9 54.9L253.0 55.4L250.1 56.1L247.6 57.0L245.0 57.2L242.6 58.5L240.0 58.9"/>
<path d="M240.0 53.6L242.5 52.9L245.0 52.7L247.6 52.6L250.1 52.2L252.6 52.4L255.1 52.7L257.6 53.0L260.1 53.6L262.7 52.7"/>
<path d="M262.7 52.7L265.2 56.1L266.8 57.8L268.5 59.4L271.9 61.1L275.2 62.8L278.6 65.3L281.1 68.7L284.5 71.2L287.8 72.9L292.0 72.3L294.1 71.3L296.2 70.3L298.2 69.3L300.4 68.7L304.6 68.7L307.1 67.5L310.5 68.7L314.7 69.0L318.0 70.3L318.5 72.9L317.2 76.2L315.5 79.6L313.0 82.1L311.3 84.6L309.1 85.2L307.1 86.3L304.6 88.8L303.8 92.1L305.4 94.7L304.6 97.2L308.0 98.9L310.1 102.2L307.1 103.9L302.9 103.1L299.6 103.9L297.9 105.6L299.6 108.9L301.2 112.3L302.9 114.8L304.6 116.5L307.1 119.0L308.0 120.0"/>
<path d="M240.0 68.7L243.4 70.3L246.7 72.0L250.1 73.7L252.1 76.2L251.7 78.7L248.4 80.4L245.9 82.9L245.0 86.3L245.7 88.4L246.7 90.5L247.6 94.7L249.2 97.2L252.6 98.9L255.9 100.5L258.5 103.1L261.8 104.7L264.3 107.2L263.5 110.6L260.1 112.3L257.6 114.0L256.8 117.3L257.6 120.0"/>
<path d="M259.3 110.0L256.8 111.7L255.9 115.0L257.6 118.4L255.9 120.9L254.4 122.7L252.6 124.3L250.1 127.6L247.6 131.0L244.2 133.5L242.5 136.8L241.6 138.9L240.8 141.0L240.0 141.9"/>
<path d="M301.2 110.0L302.1 114.2L304.6 117.6L306.7 118.8L308.8 120.1L310.7 121.6L313.0 122.6L316.3 125.1L319.7 127.6L323.1 129.3L326.4 131.0"/>
<path d="M326.4 131.0L323.9 132.7L320.5 135.2L318.0 138.5L315.5 141.9L316.3 144.4L319.7 146.1L323.1 148.6L326.4 150.3L328.4 151.7L330.6 152.8L334.0 154.5L337.3 156.1L340.0 157.8"/>
<path d="M326.4 131.0L329.8 128.5L334.0 127.6L337.3 128.5L340.0 130.1"/>
<path d="M330.0 128.5L333.4 127.6L337.6 128.5L339.2 131.0L342.6 132.7L344.8 133.3L346.8 134.3L350.1 136.8L352.7 140.2L356.8 141.0L360.2 140.2L362.7 143.6L366.1 146.1L368.0 147.3L370.3 147.8L371.9 150.3L376.1 151.1L378.4 151.6L380.3 152.8L383.7 153.6L387.0 153.3L391.2 154.5L393.8 154.8L396.3 155.3L400.5 155.0L404.7 154.0L408.0 153.3L409.7 155.3L410.2 158.7L411.4 160.3"/>
<path d="M330.0 152.8L333.4 154.5L335.4 155.5L337.6 156.1L339.8 157.1L341.7 158.7L343.8 159.5L345.9 160.3L350.1 159.5L352.7 159.5L355.2 160.3L357.7 160.1L360.2 159.5L363.6 162.0L366.9 164.5L369.4 165.2L371.9 165.4L374.0 166.3L376.1 167.0L380.3 167.9L382.8 168.6L385.4 168.7L387.9 169.0L390.4 169.6L393.3 170.2L396.3 170.4L400.5 169.6L403.0 167.9L403.8 165.4L402.5 162.0L402.1 157.8L404.7 155.0"/>
<path d="M411.4 160.3L412.7 158.3L413.9 156.1L415.6 154.8L417.2 153.3L419.3 152.2L421.4 151.1L424.0 151.0L426.5 150.3L430.0 151.1"/>
<path d="M411.4 160.3L412.2 162.9L415.6 165.4L418.0 166.4L420.6 166.7L423.1 166.9L425.6 167.0L427.8 166.8L430.0 166.2"/>
<path d="M403.8 167.9L403.0 172.1L402.1 176.3L404.7 178.8L406.9 179.3L408.9 180.5L411.4 183.0L408.0 184.7L404.7 185.5L403.0 188.0L403.8 191.4L406.3 193.1L408.0 196.4L407.2 200.6L408.0 204.0L410.5 206.5L412.2 209.0"/>
<path d="M403.8 168.4L407.2 169.1L409.7 170.4L413.1 171.2L416.4 172.4L419.8 174.6L421.4 177.1L421.1 180.5L422.3 183.0L424.8 183.8L427.4 183.8L430.0 183.5"/>
<path d="M420.0 151.5L422.9 150.9L425.8 150.1L428.6 151.0L431.6 150.9L433.9 152.4L436.4 153.4L438.4 154.7L440.3 156.3L442.2 157.7L444.1 159.2L445.1 163.1L444.1 166.0L441.7 166.0L439.3 166.3L436.4 166.6L433.5 166.0L430.6 166.5L427.7 166.9L425.3 167.2L422.9 166.9L420.0 167.9"/>
<path d="M440.3 156.3L444.1 155.3L446.5 154.5L448.9 154.4L451.1 152.1L453.8 150.5L456.3 148.8L458.6 146.7L460.9 145.8L463.4 145.7L465.7 144.1L468.2 142.8L470.6 141.0L473.1 139.3L475.4 140.4L477.9 140.9L480.2 140.0L482.7 139.9L485.1 138.9L487.5 138.0L489.4 139.5L491.4 140.9L493.3 143.8L491.4 147.6L494.3 149.6L496.6 150.4L499.1 150.5L502.0 151.5"/>
<path d="M502.0 151.5L503.9 148.6L507.8 148.6L509.0 150.7L510.7 152.4L512.4 155.1L514.5 157.3L515.7 160.1L516.5 163.1L516.5 165.5L516.5 167.9L516.1 170.8L515.5 173.7L513.6 177.5L510.7 180.4L508.5 182.1L506.8 184.3L505.0 186.5L503.9 189.1L504.7 191.5L504.9 193.9L503.0 197.8L506.8 196.8L509.7 196.1L512.6 195.9L515.0 195.6L517.4 195.9L517.2 198.3L516.5 200.7L518.4 204.5L522.3 206.5L523.7 208.4L525.2 210.3L523.2 214.2L521.3 217.1L525.2 217.7L529.0 217.1"/>
<path d="M502.0 151.5L500.1 155.3L498.6 157.7L497.2 160.2L498.1 163.1L494.3 161.1L491.9 161.8L489.5 162.1L487.3 163.9L484.6 165.0L482.3 166.5L479.8 167.9L478.5 169.9L476.9 171.7L476.9 174.2L476.9 176.6L475.1 178.8L474.0 181.4L472.9 183.7L472.1 186.2L471.1 188.6L470.2 191.0L468.2 192.4L466.3 193.9L463.4 194.3L460.5 194.9L458.6 198.8L459.0 201.6L458.6 204.5L455.7 207.4L454.9 209.8L454.7 212.3L455.7 216.1L452.8 219.0L450.9 220.9L450.9 225.0"/>
<path d="M448.9 187.2L447.3 189.0L446.0 191.0L443.5 191.7L441.2 193.0L439.1 194.2L437.4 195.9L435.4 199.7L436.0 202.1L436.4 204.5L439.3 206.5L440.7 204.5L442.2 202.6L443.2 198.8L446.0 199.7L446.9 202.1L447.0 204.5L447.9 207.5L448.9 210.3L449.8 213.2L449.9 216.1L449.8 219.1L448.9 221.9L449.9 225.0"/>
<path d="M200.3 110.0L199.5 112.5L195.3 113.4L192.7 113.2L190.3 112.5L188.3 113.6L186.1 114.2L184.1 115.6L181.9 116.7L179.4 117.5L176.8 117.6L174.9 118.8L172.7 119.2L171.2 121.1L169.3 122.6L168.5 126.8L167.6 131.0L166.8 133.5L164.6 134.4L162.3 134.7L160.1 135.2L157.2 136.4L154.2 136.8"/>
<path d="M250.0 126.8L248.0 128.7L246.5 131.0L245.1 133.0L244.0 135.2L243.0 137.8L241.4 140.2L239.5 142.1L237.2 143.6L235.2 145.3L233.1 146.9L231.1 149.5L228.9 151.9L226.5 153.5L223.8 154.5L221.2 155.0L218.8 156.1L216.9 154.5L214.6 153.6L211.2 154.5L209.6 156.2L207.9 157.8L205.8 159.9L203.7 162.0L202.9 166.2L206.2 168.7L208.7 171.2L209.5 173.7L209.6 176.3L212.9 178.8L214.9 180.2L216.3 182.1L217.7 184.2L218.8 186.3L219.1 190.5L217.1 193.1L212.9 192.6L210.0 193.4L207.0 193.9L204.8 193.6L202.6 194.2L200.3 193.9L197.8 194.2L195.3 193.6L194.0 197.2L191.1 198.9"/>
<path d="M154.2 183.0L158.4 181.8L160.9 182.0L163.4 181.3L166.8 179.6L169.3 180.5L171.0 183.8L173.5 187.2L176.8 188.9L177.7 191.0L178.5 193.1L181.0 196.4L184.4 198.1L187.8 198.9L191.1 198.9L190.3 201.4L191.9 204.0L194.5 206.5L196.7 207.0L198.7 208.2L201.2 208.6L203.7 209.0L206.1 208.2L208.7 208.2L210.8 207.3L212.9 206.5"/>
<path d="M189.4 200.0L191.1 202.5L192.8 205.0L196.1 207.6L200.3 208.4L202.9 208.8L205.4 208.4L209.6 207.6L213.4 206.4L212.1 209.2L208.7 211.7L204.5 212.6L200.3 213.4L197.8 214.3L197.0 215.9L198.7 217.6L201.2 220.1L202.6 222.0L204.5 223.5L206.1 225.3L207.9 226.8L211.2 229.4L214.6 231.4L218.8 231.9L220.8 231.0L223.0 230.5L225.0 229.4L227.2 228.5L230.5 226.0L232.2 222.7L232.6 219.3L233.1 215.9L234.7 215.1L235.6 218.5L237.2 221.8L236.4 225.2L237.2 229.4L238.1 233.6L237.2 237.8L236.9 241.9L237.5 244.4L237.6 247.0L238.0 249.6L238.9 252.0L239.3 254.5L239.8 257.0L239.9 259.6L240.6 262.1L241.4 264.6L241.9 267.1L242.8 269.6L243.1 272.1L243.3 274.7L244.0 277.2L244.2 279.8L245.3 282.2L246.0 284.8L247.3 287.2L247.9 289.4L249.0 291.4L250.0 294.0"/>
<path d="M330.0 279.7L334.2 278.9L336.4 278.3L338.4 277.2L339.2 273.8L340.9 271.3L343.1 270.2L345.1 268.8L347.0 266.9L349.3 265.4L351.4 263.8L353.5 262.1L355.5 259.9L357.7 257.9L359.5 255.5L361.9 253.7L363.7 251.3L366.1 249.5L368.5 247.2L371.1 245.3L373.5 243.4L376.1 241.9L378.7 240.8L381.2 239.4L383.5 238.5L385.4 236.9L387.9 234.4L388.7 231.0L389.6 227.7L391.2 225.2L393.3 224.3L395.4 223.5L398.0 223.5L400.5 222.7L404.7 221.8L408.9 221.0L411.4 221.0L413.9 220.1L416.4 220.4L418.9 219.8L421.4 219.4L424.0 219.3L426.9 218.2L430.0 217.6"/>
<path d="M407.2 200.0L408.9 203.4L409.9 205.4L410.5 207.6L411.4 211.7L411.8 214.2L411.7 216.8L411.4 221.0"/>
<path d="M249.2 290.0L250.7 292.0L251.7 294.2L252.9 296.3L254.3 298.4L254.8 300.6L255.9 302.6L256.8 306.8L257.3 309.4L258.5 311.8L259.3 314.3L260.1 316.8L261.3 319.4L262.7 321.9L264.1 324.1L266.0 326.1L267.6 328.0L268.5 330.3L269.7 332.8L271.0 335.3L271.5 337.9L272.7 340.3L273.3 342.9L274.4 345.4L275.0 348.0L276.1 350.4L276.9 352.9L277.8 355.4L279.3 357.8L280.3 360.5L281.7 362.7L283.6 364.7L285.4 366.0L287.0 367.5L289.5 368.5L292.0 367.2L294.5 363.8L295.6 361.8L296.2 359.6L299.6 357.1L303.8 356.3L306.3 354.6L304.6 352.1L305.4 348.7L308.0 346.2L311.3 344.5L313.0 342.0L313.7 339.5L313.5 337.0L313.1 334.5L313.0 331.9L313.3 329.4L313.8 326.9L315.4 325.0L316.3 322.7L317.4 320.7L318.0 318.5L318.0 316.0L318.5 313.5L317.7 311.0L317.5 308.5L316.6 306.0L316.3 303.4L316.7 300.9L316.3 298.4L315.8 294.2L316.3 290.0"/>
<path d="M240.0 258.7L240.3 261.6L241.4 264.3L241.7 267.1L241.9 270.0L242.4 272.8L243.4 275.5L244.1 278.3L245.2 281.1L245.9 283.9L247.0 286.4L248.4 288.8L249.2 291.4L251.3 293.7L252.6 296.5L254.0 298.5L255.9 300.0"/>
<path d="M340.0 276.3L336.5 278.0L332.3 278.9L330.1 280.4L328.1 282.2L325.6 285.6L322.2 284.7L318.9 286.4L317.6 288.5L316.3 290.6L315.5 293.1L315.5 295.6L316.0 297.8L316.3 300.0"/>
<path d="M467.3 195.0L465.1 196.2L463.4 197.9L459.6 198.9L458.6 202.7L456.9 204.5L455.7 206.6L455.5 209.5L454.7 212.4L455.7 216.2L452.8 219.1L450.9 221.0L450.9 224.9"/>
<path d="M434.5 196.9L435.2 199.3L435.4 201.8L437.0 203.6L438.3 205.6L441.2 202.7L441.8 200.2L442.8 197.9L445.1 198.9L445.5 201.8L446.0 204.6L447.2 207.5L448.0 210.4L448.7 213.3L449.3 216.2L449.5 219.1L448.9 222.0L449.9 225.9"/>
<path d="M431.6 215.3L434.6 214.6L437.4 213.3L439.4 215.7L441.2 218.2L442.7 220.5L444.1 223.0L445.5 225.0L447.0 226.8L448.2 229.0L449.9 230.7L451.4 232.6L452.8 234.6L453.9 236.7L455.7 238.4L458.6 241.3L461.5 243.2L464.4 246.1L465.3 250.0L463.4 252.9L466.3 254.8L467.8 256.7L469.2 258.7L470.1 261.1L471.1 263.5L471.4 266.4L471.7 269.3L471.5 271.8L470.5 274.1L469.9 276.5L469.2 278.9L467.8 282.8L471.1 283.8L473.6 283.7L476.0 284.1L478.4 284.0L480.8 284.7L483.7 281.8L486.6 279.9L489.5 277.0L492.4 275.1L495.2 272.2L496.8 268.3L499.1 271.2L501.0 275.1L501.7 277.6L503.0 279.9L504.2 282.7L504.9 285.7L505.4 288.6L505.9 291.5L506.1 294.4L506.8 297.3L507.7 300.2L508.8 303.0L510.3 305.4L511.6 307.9L512.6 310.0"/>
<path d="M529.0 220.1L527.1 218.1L525.2 216.2L523.7 214.3L522.3 212.4L524.2 208.5L522.9 206.4L521.3 204.6L519.6 202.9L518.4 200.8L516.5 196.9L512.6 195.0"/>
<path d="M530.0 236.5L526.1 236.5L523.2 239.4L520.8 240.3L518.4 241.3L514.5 242.3L512.2 243.0L509.7 243.2L506.8 246.1L505.9 250.0L503.9 253.8L502.0 256.7L503.9 259.6L505.5 261.4L506.8 263.5L508.1 266.0L509.7 268.3L511.2 270.7L512.6 273.1L514.0 275.1L515.5 277.0L517.4 279.9L516.1 283.8L514.5 287.6L511.6 290.5L510.7 294.4L511.4 296.9L512.6 299.2L513.8 301.3L515.5 303.0L517.0 304.9L518.4 306.9L520.3 310.0"/>
<path d="M454.7 308.5L455.7 312.4L454.9 314.7L454.3 317.2L454.0 319.6L453.8 322.0L453.3 324.4L452.8 326.8L452.1 329.2L451.8 331.7L450.5 332.6L449.9 328.8L450.5 326.3L451.3 323.9L451.6 321.0L451.8 318.2L452.5 315.7L453.2 313.3L454.3 311.0L454.7 308.5"/>
<path d="M476.9 394.4L479.8 393.4L481.6 395.0L483.7 396.3L486.0 397.6L488.5 398.2L491.3 399.1L494.3 399.2L496.7 399.5L499.1 400.2L501.5 400.2L503.9 400.2L504.9 401.5"/>
<path d="M476.9 394.4L477.9 397.3L478.8 401.5"/>
<path d="M505.9 295.0L507.0 297.6L508.8 299.8L509.4 302.8L510.7 305.6L512.0 308.4L512.6 311.4L513.9 314.2L514.5 317.2L515.1 320.1L515.5 323.0L516.4 325.8L516.5 328.8L516.2 331.7L515.5 334.6L515.4 337.5L514.5 340.3L513.9 343.2L513.6 346.1L512.8 349.0L512.6 351.9L511.3 354.7L510.7 357.7L511.2 360.6L511.1 363.5L511.2 366.4L511.6 369.3L514.5 366.4L516.5 369.3L517.8 371.3L519.4 373.1L521.5 374.8L523.2 377.0L524.4 379.1L526.1 380.9L528.0 384.7L529.0 388.6"/>
<path d="M510.7 295.0L512.3 297.2L514.5 298.9L516.6 300.6L518.4 302.7L519.0 305.3L520.3 307.5L519.9 310.0L519.4 312.4L520.3 314.8L521.3 317.2L522.4 319.8L524.2 322.0L524.9 324.5L526.1 326.8L527.1 330.7L525.3 332.4L523.2 333.6L521.3 335.6L519.4 337.4L517.9 339.4L516.5 341.3"/>
<path d="M527.1 330.7L530.0 327.8"/>
<path d="M516.5 341.3L519.3 340.7L522.3 340.3L522.0 342.8L521.3 345.2L521.0 348.1L520.3 351.0L521.1 353.4L522.3 355.8L524.8 355.8L527.1 356.7L528.5 358.7L530.0 360.6"/>
<path d="M315.9 351.0L318.1 351.0L320.4 354.0L321.9 355.8L323.4 357.8L325.3 359.4L326.4 361.5L328.1 363.3L329.5 365.3L330.9 367.6L332.5 369.8L333.6 372.1L334.7 374.4L335.7 376.6L335.8 378.9L335.2 381.1L335.5 383.4L334.1 385.2L333.2 387.2L331.1 388.0L329.5 389.5L327.3 390.6L324.9 391.0L321.1 391.8L318.1 390.7L315.9 388.0L314.9 385.8L314.4 383.4L313.4 381.3L313.3 378.9L313.3 376.6L312.8 374.4L312.3 372.1L312.1 369.8L311.9 367.6L312.4 365.3L312.9 363.0L313.6 360.8L314.4 357.0L313.9 354.0L315.1 351.7L315.9 351.0"/>
<path d="M227.1 60.1L231.1 59.3L235.1 58.4L237.5 58.9L240.0 58.7"/>
<path d="M240.2 58.6L238.7 60.6L236.7 62.7L235.1 64.7L235.6 66.7L237.2 68.2L239.7 69.2"/>
<path d="M401.0 220.2L402.6 217.2L403.0 219.8L404.1 222.2L404.6 219.9L405.6 217.7L407.1 221.7L407.5 219.1L408.6 216.7L409.0 219.1L410.1 221.2L411.6 219.2L413.6 220.2L414.4 218.0L415.1 215.7L415.7 218.0L416.7 220.2L417.3 217.6L418.7 215.2L419.6 217.6L419.7 220.2L420.8 218.3L421.7 216.2L423.2 219.7L425.2 217.2L427.2 219.2L428.7 215.7L430.2 218.7L430.9 216.4L431.8 214.2L433.8 216.2L435.3 212.7L437.3 211.1L439.3 211.7L440.8 214.2L442.3 218.2L443.7 220.0L444.3 222.2L445.4 225.2L447.4 228.8L448.3 231.0L449.9 232.8L451.3 235.1L452.9 237.3L455.0 240.9"/>
<path d="M425.7 203.1L428.0 203.1L430.2 202.6L428.2 204.1L427.7 208.1L429.2 211.1L428.7 215.2L429.7 211.7L428.7 208.1"/>
<path d="M437.3 211.7L439.3 213.2L438.3 214.7L436.8 213.7L437.3 211.7"/>
<path d="M442.3 223.2L445.4 224.7L447.2 227.3L448.4 230.3L449.6 233.0L451.4 235.3L454.4 238.3"/>
<path d="M430.0 183.5L433.1 183.7L436.0 184.6L439.0 185.2L442.0 185.2L444.8 185.3L447.6 185.5L449.2 187.0"/>
<ellipse cx="448.6" cy="340.7" rx="1.4" ry="1.7" stroke-width="1.1"/>
<ellipse cx="462.8" cy="379.5" rx="1.4" ry="2.7" stroke-width="1.1"/>
<ellipse cx="514.2" cy="368.3" rx="1.5" ry="2.3" stroke-width="1.1"/>
<ellipse cx="527.1" cy="385.7" rx="1.5" ry="2.3" stroke-width="1.1"/>
</g>
<g fill="#000">
<circle cx="511.1" cy="334.0" r="0.98"/>
<circle cx="505.9" cy="340.2" r="0.97"/>
<circle cx="505.0" cy="302.5" r="0.86"/>
<circle cx="512.6" cy="348.7" r="0.65"/>
<circle cx="511.6" cy="325.9" r="0.83"/>
<circle cx="515.8" cy="301.7" r="0.69"/>
<circle cx="516.1" cy="315.8" r="0.66"/>
<circle cx="508.6" cy="343.2" r="0.66"/>
<circle cx="511.5" cy="333.7" r="0.95"/>
<circle cx="511.9" cy="312.1" r="0.69"/>
<circle cx="512.7" cy="353.1" r="0.98"/>
<circle cx="509.7" cy="329.6" r="0.87"/>
<circle cx="516.1" cy="311.9" r="0.99"/>
<circle cx="509.4" cy="348.4" r="0.72"/>
<circle cx="512.5" cy="320.1" r="0.63"/>
<circle cx="513.2" cy="317.0" r="0.84"/>
<circle cx="510.8" cy="301.2" r="0.72"/>
<circle cx="508.7" cy="344.4" r="0.79"/>
<circle cx="507.0" cy="317.7" r="0.62"/>
<circle cx="511.5" cy="352.7" r="0.61"/>
<circle cx="511.5" cy="340.7" r="0.92"/>
<circle cx="511.2" cy="320.4" r="0.83"/>
<circle cx="513.8" cy="301.5" r="0.98"/>
<circle cx="512.4" cy="311.4" r="0.90"/>
<circle cx="513.6" cy="350.3" r="0.74"/>
<circle cx="510.5" cy="328.8" r="0.91"/>
<circle cx="511.9" cy="306.7" r="0.94"/>
<circle cx="506.6" cy="302.9" r="0.98"/>
<circle cx="509.7" cy="305.8" r="0.97"/>
<circle cx="515.1" cy="319.0" r="0.97"/>
<circle cx="510.4" cy="329.9" r="0.67"/>
<circle cx="514.4" cy="305.1" r="0.66"/>
<circle cx="513.1" cy="337.5" r="0.62"/>
<circle cx="510.9" cy="353.3" r="0.81"/>
<circle cx="511.9" cy="322.5" r="0.93"/>
<circle cx="515.6" cy="325.2" r="0.77"/>
<circle cx="512.6" cy="304.0" r="0.80"/>
<circle cx="510.7" cy="345.4" r="0.65"/>
<circle cx="515.7" cy="333.1" r="1.02"/>
<circle cx="512.1" cy="319.3" r="0.87"/>
<circle cx="513.9" cy="320.3" r="0.88"/>
<circle cx="511.6" cy="339.0" r="1.04"/>
<circle cx="510.8" cy="338.5" r="0.99"/>
<circle cx="513.7" cy="327.5" r="0.82"/>
<circle cx="514.2" cy="325.9" r="1.10"/>
<circle cx="514.5" cy="338.1" r="0.95"/>
<circle cx="512.5" cy="328.0" r="0.81"/>
<circle cx="513.7" cy="334.2" r="1.05"/>
<circle cx="513.8" cy="324.9" r="0.98"/>
<circle cx="509.6" cy="331.6" r="1.00"/>
<circle cx="512.5" cy="325.0" r="0.89"/>
<circle cx="511.4" cy="333.9" r="0.98"/>
<circle cx="236.6" cy="329.8" r="0.8"/>
<circle cx="239.9" cy="331.8" r="0.8"/>
<circle cx="237.8" cy="335.2" r="0.8"/>
<circle cx="230.5" cy="335.2" r="0.8"/>
<circle cx="231.5" cy="338.5" r="0.8"/>
<circle cx="236.1" cy="341.9" r="0.8"/>
<circle cx="247.3" cy="339.4" r="0.8"/>
<circle cx="247.0" cy="347.2" r="0.8"/>
<circle cx="240.3" cy="367.0" r="0.8"/>
<circle cx="239.4" cy="379.6" r="0.8"/>
<circle cx="241.6" cy="382.1" r="0.8"/>
<circle cx="240.8" cy="386.3" r="0.8"/>
<circle cx="242.8" cy="388.9" r="0.8"/>
<circle cx="238.9" cy="392.2" r="0.8"/>
<circle cx="244.0" cy="393.1" r="0.8"/>
<circle cx="243.3" cy="397.2" r="0.8"/>
<circle cx="246.1" cy="398.1" r="0.8"/>
<circle cx="458.6" cy="303.7" r="0.8"/>
<circle cx="468.2" cy="311.4" r="0.8"/>
<circle cx="464.0" cy="323.6" r="0.8"/>
<circle cx="446.6" cy="331.1" r="0.8"/>
<circle cx="462.1" cy="296.0" r="0.8"/>
<circle cx="451.8" cy="356.7" r="0.8"/>
<circle cx="455.7" cy="366.4" r="0.8"/>
<circle cx="459.6" cy="369.3" r="0.8"/>
<circle cx="460.9" cy="364.5" r="0.8"/>
<circle cx="505.9" cy="303.7" r="0.8"/>
<circle cx="507.8" cy="306.6" r="0.8"/>
<circle cx="509.7" cy="309.5" r="0.8"/>
<circle cx="506.8" cy="318.2" r="0.8"/>
<circle cx="510.7" cy="320.1" r="0.8"/>
<circle cx="513.6" cy="322.0" r="0.8"/>
<circle cx="508.8" cy="323.9" r="0.8"/>
<circle cx="511.6" cy="325.9" r="0.8"/>
<circle cx="514.5" cy="326.8" r="0.8"/>
<circle cx="509.7" cy="329.7" r="0.8"/>
<circle cx="512.6" cy="330.7" r="0.8"/>
<circle cx="515.5" cy="331.7" r="0.8"/>
<circle cx="503.0" cy="328.8" r="0.8"/>
<circle cx="504.9" cy="327.8" r="0.8"/>
<circle cx="507.8" cy="338.4" r="0.8"/>
<circle cx="510.7" cy="340.3" r="0.8"/>
<circle cx="513.6" cy="338.4" r="0.8"/>
<circle cx="508.8" cy="343.2" r="0.8"/>
<circle cx="511.6" cy="347.1" r="0.8"/>
<circle cx="509.7" cy="349.0" r="0.8"/>
<circle cx="506.8" cy="353.8" r="0.8"/>
<circle cx="510.7" cy="352.9" r="0.8"/>
<circle cx="520.3" cy="384.7" r="0.8"/>
<circle cx="526.1" cy="352.9" r="0.8"/>
<circle cx="461.5" cy="295.3" r="0.8"/>
<circle cx="458.6" cy="304.0" r="0.8"/>
<circle cx="454.7" cy="308.8" r="0.8"/>
</g>
</g>
<rect x="154.05" y="24.3" width="375.9" height="377.95" fill="none" stroke="#000" stroke-width="1.1"/>
<text x="217.4" y="15.5" font-size="19.4" text-anchor="start" font-weight="normal" textLength="268.7" lengthAdjust="spacingAndGlyphs" >Annual Average pCl<tspan dy="-5.5" font-size="13">-</tspan><tspan dy="5.5"> (µg/m³)</tspan></text>
<defs><linearGradient id="cb" x1="0" x2="1" y1="0" y2="0">
<stop offset="0" stop-color="#ffffff"/>
<stop offset="0.08" stop-color="#d8f3fd"/>
<stop offset="0.167" stop-color="#8adcf8"/>
<stop offset="0.25" stop-color="#4bc8f2"/>
<stop offset="0.30" stop-color="#55cfe0"/>
<stop offset="0.36" stop-color="#8fe0a8"/>
<stop offset="0.42" stop-color="#cdf060"/>
<stop offset="0.48" stop-color="#fbfb22"/>
<stop offset="0.52" stop-color="#ffe610"/>
<stop offset="0.58" stop-color="#ffae00"/>
<stop offset="0.66" stop-color="#ff5a00"/>
<stop offset="0.74" stop-color="#f01000"/>
<stop offset="0.80" stop-color="#d00000"/>
<stop offset="0.88" stop-color="#980000"/>
<stop offset="0.95" stop-color="#640000"/>
<stop offset="1" stop-color="#4c0000"/>
</linearGradient></defs>
<path d="M318.3 32.3H513.9L523.8 40L513.9 47.6H318.3Z" fill="url(#cb)" stroke="#000" stroke-width="0.9"/>
<path d="M318.3 47.6v2.8" stroke="#000" stroke-width="0.8"/>
<text x="318.3" y="62.4" font-size="13.3" text-anchor="middle" font-weight="normal" textLength="8.2" lengthAdjust="spacingAndGlyphs" >0</text>
<path d="M350.6 47.6v2.8" stroke="#000" stroke-width="0.8"/>
<text x="350.6" y="62.4" font-size="13.3" text-anchor="middle" font-weight="normal" textLength="8.2" lengthAdjust="spacingAndGlyphs" >1</text>
<path d="M382.9 47.6v2.8" stroke="#000" stroke-width="0.8"/>
<text x="382.9" y="62.4" font-size="13.3" text-anchor="middle" font-weight="normal" textLength="8.2" lengthAdjust="spacingAndGlyphs" >2</text>
<path d="M415.1 47.6v2.8" stroke="#000" stroke-width="0.8"/>
<text x="415.1" y="62.4" font-size="13.3" text-anchor="middle" font-weight="normal" textLength="8.2" lengthAdjust="spacingAndGlyphs" >3</text>
<path d="M447.4 47.6v2.8" stroke="#000" stroke-width="0.8"/>
<text x="447.4" y="62.4" font-size="13.3" text-anchor="middle" font-weight="normal" textLength="8.2" lengthAdjust="spacingAndGlyphs" >4</text>
<path d="M479.7 47.6v2.8" stroke="#000" stroke-width="0.8"/>
<text x="479.7" y="62.4" font-size="13.3" text-anchor="middle" font-weight="normal" textLength="8.2" lengthAdjust="spacingAndGlyphs" >5</text>
<path d="M512.0 47.6v2.8" stroke="#000" stroke-width="0.8"/>
<text x="512.0" y="62.4" font-size="13.3" text-anchor="middle" font-weight="normal" textLength="8.2" lengthAdjust="spacingAndGlyphs" >6</text>
<text x="429.3" y="76.8" font-size="14.2" text-anchor="middle" font-weight="normal" textLength="84.3" lengthAdjust="spacingAndGlyphs" >pCl<tspan dy="-4.5" font-size="10">-</tspan><tspan dy="4.5"> (µg/m³)</tspan></text>
<g stroke="#000" stroke-width="1.05" fill="none">
<path d="M35.6 20.0V193.2H147.0"/>
<path d="M32.8 193.2H35.6"/>
<path d="M32.8 158.0H35.6"/>
<path d="M32.8 122.8H35.6"/>
<path d="M32.8 87.6H35.6"/>
<path d="M32.8 52.4H35.6"/>
<path d="M91.3 193.2v2.8"/>
</g>
<text x="30.3" y="196.4" font-size="9.4" text-anchor="end" font-weight="bold" textLength="14.8" lengthAdjust="spacingAndGlyphs" >0.0</text>
<text x="30.3" y="161.2" font-size="9.4" text-anchor="end" font-weight="bold" textLength="14.8" lengthAdjust="spacingAndGlyphs" >0.2</text>
<text x="30.3" y="126.0" font-size="9.4" text-anchor="end" font-weight="bold" textLength="14.8" lengthAdjust="spacingAndGlyphs" >0.4</text>
<text x="30.3" y="90.8" font-size="9.4" text-anchor="end" font-weight="bold" textLength="14.8" lengthAdjust="spacingAndGlyphs" >0.6</text>
<text x="30.3" y="55.6" font-size="9.4" text-anchor="end" font-weight="bold" textLength="14.8" lengthAdjust="spacingAndGlyphs" >0.8</text>
<rect x="40.6" y="149.2" width="33.6" height="44.0" fill="#1e90ff" stroke="#000" stroke-width="1.4"/>
<rect x="74.2" y="103.5" width="34.5" height="89.7" fill="#ff4500" stroke="#000" stroke-width="1.4"/>
<rect x="108.7" y="183.5" width="33.9" height="9.7" fill="#228b22" stroke="#000" stroke-width="1.4"/>
<path d="M57.7 142.5V155.0" stroke="#000" stroke-width="1.7" fill="none"/><path d="M55.5 142.5h4.4M55.5 155.0h4.4" stroke="#000" stroke-width="1.2" fill="none"/>
<path d="M91.3 78.0V129.5" stroke="#000" stroke-width="1.7" fill="none"/><path d="M89.1 78.0h4.4M89.1 129.5h4.4" stroke="#000" stroke-width="1.2" fill="none"/>
<text x="87.8" y="203.8" font-size="10.1" text-anchor="middle" font-weight="bold" textLength="64.1" lengthAdjust="spacingAndGlyphs" >Ahmedabad</text>
<g transform="translate(9.7 107.7) rotate(-90)"><text x="0" y="0" font-size="9.6" font-weight="bold" text-anchor="middle" textLength="72.5" lengthAdjust="spacingAndGlyphs">pCl<tspan dy="-3.3" font-size="6.8">−</tspan><tspan dy="3.3"> (µg m</tspan><tspan dy="-3.3" font-size="6.8">−3</tspan><tspan dy="3.3">)</tspan></text></g>
<g stroke="#000" stroke-width="1.05" fill="none">
<path d="M39.6 222.4V394.5H145.7"/>
<path d="M36.8 394.5H39.6"/>
<path d="M36.8 357.7H39.6"/>
<path d="M36.8 320.9H39.6"/>
<path d="M36.8 284.1H39.6"/>
<path d="M36.8 247.3H39.6"/>
<path d="M92.6 394.5v2.8"/>
</g>
<text x="34.3" y="397.7" font-size="9.4" text-anchor="end" font-weight="bold" textLength="20.9" lengthAdjust="spacingAndGlyphs" >0.00</text>
<text x="34.3" y="360.9" font-size="9.4" text-anchor="end" font-weight="bold" textLength="20.9" lengthAdjust="spacingAndGlyphs" >0.05</text>
<text x="34.3" y="324.1" font-size="9.4" text-anchor="end" font-weight="bold" textLength="20.9" lengthAdjust="spacingAndGlyphs" >0.10</text>
<text x="34.3" y="287.3" font-size="9.4" text-anchor="end" font-weight="bold" textLength="20.9" lengthAdjust="spacingAndGlyphs" >0.15</text>
<text x="34.3" y="250.5" font-size="9.4" text-anchor="end" font-weight="bold" textLength="20.9" lengthAdjust="spacingAndGlyphs" >0.20</text>
<rect x="44.3" y="329.8" width="31.9" height="64.7" fill="#1e90ff" stroke="#000" stroke-width="1.4"/>
<rect x="76.2" y="293.2" width="32.2" height="101.3" fill="#ff4500" stroke="#000" stroke-width="1.4"/>
<rect x="108.4" y="373.7" width="32.2" height="20.8" fill="#228b22" stroke="#000" stroke-width="1.4"/>
<path d="M60.4 324.7V334.8" stroke="#000" stroke-width="1.7" fill="none"/><path d="M58.2 324.7h4.4M58.2 334.8h4.4" stroke="#000" stroke-width="1.2" fill="none"/>
<path d="M92.6 280.4V305.6" stroke="#000" stroke-width="1.7" fill="none"/><path d="M90.4 280.4h4.4M90.4 305.6h4.4" stroke="#000" stroke-width="1.2" fill="none"/>
<path d="M124.8 370.7V376.7" stroke="#000" stroke-width="1.7" fill="none"/><path d="M122.6 370.7h4.4M122.6 376.7h4.4" stroke="#000" stroke-width="1.2" fill="none"/>
<text x="93.5" y="408.7" font-size="11.4" text-anchor="middle" font-weight="bold" textLength="95.9" lengthAdjust="spacingAndGlyphs" >Mahabaleshwar</text>
<g transform="translate(8.3 309.1) rotate(-90)"><text x="0" y="0" font-size="9.6" font-weight="bold" text-anchor="middle" textLength="71.7" lengthAdjust="spacingAndGlyphs">pCl<tspan dy="-3.3" font-size="6.8">−</tspan><tspan dy="3.3"> (µg m</tspan><tspan dy="-3.3" font-size="6.8">−3</tspan><tspan dy="3.3">)</tspan></text></g>
<g stroke="#000" stroke-width="1.05" fill="none">
<path d="M228.3 407.6V580.6H336.0"/>
<path d="M225.5 580.6H228.3"/>
<path d="M225.5 560.6H228.3"/>
<path d="M225.5 540.6H228.3"/>
<path d="M225.5 520.6H228.3"/>
<path d="M225.5 500.6H228.3"/>
<path d="M225.5 480.6H228.3"/>
<path d="M225.5 460.6H228.3"/>
<path d="M225.5 440.6H228.3"/>
<path d="M225.5 420.6H228.3"/>
<path d="M282.3 580.6v2.8"/>
</g>
<text x="223.0" y="583.6" font-size="8.7" text-anchor="end" font-weight="bold" textLength="19.3" lengthAdjust="spacingAndGlyphs" >0.00</text>
<text x="223.0" y="563.6" font-size="8.7" text-anchor="end" font-weight="bold" textLength="19.3" lengthAdjust="spacingAndGlyphs" >0.05</text>
<text x="223.0" y="543.6" font-size="8.7" text-anchor="end" font-weight="bold" textLength="19.3" lengthAdjust="spacingAndGlyphs" >0.10</text>
<text x="223.0" y="523.6" font-size="8.7" text-anchor="end" font-weight="bold" textLength="19.3" lengthAdjust="spacingAndGlyphs" >0.15</text>
<text x="223.0" y="503.6" font-size="8.7" text-anchor="end" font-weight="bold" textLength="19.3" lengthAdjust="spacingAndGlyphs" >0.20</text>
<text x="223.0" y="483.6" font-size="8.7" text-anchor="end" font-weight="bold" textLength="19.3" lengthAdjust="spacingAndGlyphs" >0.25</text>
<text x="223.0" y="463.6" font-size="8.7" text-anchor="end" font-weight="bold" textLength="19.3" lengthAdjust="spacingAndGlyphs" >0.30</text>
<text x="223.0" y="443.6" font-size="8.7" text-anchor="end" font-weight="bold" textLength="19.3" lengthAdjust="spacingAndGlyphs" >0.35</text>
<text x="223.0" y="423.6" font-size="8.7" text-anchor="end" font-weight="bold" textLength="19.3" lengthAdjust="spacingAndGlyphs" >0.40</text>
<rect x="233.0" y="510.1" width="32.6" height="70.5" fill="#1e90ff" stroke="#000" stroke-width="1.4"/>
<rect x="265.6" y="480.6" width="32.9" height="100.0" fill="#ff4500" stroke="#000" stroke-width="1.4"/>
<rect x="298.5" y="555.4" width="32.8" height="25.2" fill="#228b22" stroke="#000" stroke-width="1.4"/>
<path d="M249.5 492.6V526.9" stroke="#000" stroke-width="1.7" fill="none"/><path d="M247.3 492.6h4.4M247.3 526.9h4.4" stroke="#000" stroke-width="1.2" fill="none"/>
<path d="M282.3 465.5V495.7" stroke="#000" stroke-width="1.7" fill="none"/><path d="M280.1 465.5h4.4M280.1 495.7h4.4" stroke="#000" stroke-width="1.2" fill="none"/>
<path d="M314.9 552.4V558.4" stroke="#000" stroke-width="1.7" fill="none"/><path d="M312.7 552.4h4.4M312.7 558.4h4.4" stroke="#000" stroke-width="1.2" fill="none"/>
<text x="276.6" y="596.0" font-size="10.5" text-anchor="middle" font-weight="bold" textLength="42.5" lengthAdjust="spacingAndGlyphs" >Munnar</text>
<g transform="translate(197.6 494.6) rotate(-90)"><text x="0" y="0" font-size="9.6" font-weight="bold" text-anchor="middle" textLength="72.5" lengthAdjust="spacingAndGlyphs">pCl<tspan dy="-3.3" font-size="6.8">−</tspan><tspan dy="3.3"> (µg m</tspan><tspan dy="-3.3" font-size="6.8">−3</tspan><tspan dy="3.3">)</tspan></text></g>
<g stroke="#000" stroke-width="1.05" fill="none">
<path d="M369.9 407.6V580.6H481.7"/>
<path d="M367.1 580.6H369.9"/>
<path d="M367.1 555.6H369.9"/>
<path d="M367.1 530.6H369.9"/>
<path d="M367.1 505.6H369.9"/>
<path d="M367.1 480.6H369.9"/>
<path d="M367.1 455.6H369.9"/>
<path d="M367.1 430.6H369.9"/>
<path d="M426.3 580.6v2.8"/>
</g>
<text x="364.6" y="583.8" font-size="9.2" text-anchor="end" font-weight="bold" textLength="14.4" lengthAdjust="spacingAndGlyphs" >0.0</text>
<text x="364.6" y="558.8" font-size="9.2" text-anchor="end" font-weight="bold" textLength="14.4" lengthAdjust="spacingAndGlyphs" >0.2</text>
<text x="364.6" y="533.8" font-size="9.2" text-anchor="end" font-weight="bold" textLength="14.4" lengthAdjust="spacingAndGlyphs" >0.4</text>
<text x="364.6" y="508.8" font-size="9.2" text-anchor="end" font-weight="bold" textLength="14.4" lengthAdjust="spacingAndGlyphs" >0.6</text>
<text x="364.6" y="483.8" font-size="9.2" text-anchor="end" font-weight="bold" textLength="14.4" lengthAdjust="spacingAndGlyphs" >0.8</text>
<text x="364.6" y="458.8" font-size="9.2" text-anchor="end" font-weight="bold" textLength="14.4" lengthAdjust="spacingAndGlyphs" >1.0</text>
<text x="364.6" y="433.8" font-size="9.2" text-anchor="end" font-weight="bold" textLength="14.4" lengthAdjust="spacingAndGlyphs" >1.2</text>
<rect x="375.3" y="477.2" width="33.9" height="103.4" fill="#1e90ff" stroke="#000" stroke-width="1.4"/>
<rect x="409.2" y="513.8" width="33.9" height="66.8" fill="#ff4500" stroke="#000" stroke-width="1.4"/>
<rect x="443.1" y="536.9" width="33.9" height="43.7" fill="#228b22" stroke="#000" stroke-width="1.4"/>
<path d="M392.1 465.5V489.0" stroke="#000" stroke-width="1.7" fill="none"/><path d="M389.9 465.5h4.4M389.9 489.0h4.4" stroke="#000" stroke-width="1.2" fill="none"/>
<path d="M426.3 511.4V515.8" stroke="#000" stroke-width="1.7" fill="none"/><path d="M424.1 511.4h4.4M424.1 515.8h4.4" stroke="#000" stroke-width="1.2" fill="none"/>
<path d="M460.2 533.6V540.3" stroke="#000" stroke-width="1.7" fill="none"/><path d="M458.0 533.6h4.4M458.0 540.3h4.4" stroke="#000" stroke-width="1.2" fill="none"/>
<text x="428.8" y="594.2" font-size="10.6" text-anchor="middle" font-weight="bold" textLength="45.8" lengthAdjust="spacingAndGlyphs" >Chennai</text>
<g transform="translate(343.6 494.6) rotate(-90)"><text x="0" y="0" font-size="9.6" font-weight="bold" text-anchor="middle" textLength="72.5" lengthAdjust="spacingAndGlyphs">pCl<tspan dy="-3.3" font-size="6.8">−</tspan><tspan dy="3.3"> (µg m</tspan><tspan dy="-3.3" font-size="6.8">−3</tspan><tspan dy="3.3">)</tspan></text></g>
<g stroke="#000" stroke-width="1.05" fill="none">
<path d="M563.6 25.7V198.9H679.3"/>
<path d="M560.8 198.9H563.6"/>
<path d="M560.8 162.2H563.6"/>
<path d="M560.8 125.6H563.6"/>
<path d="M560.8 88.9H563.6"/>
<path d="M560.8 52.2H563.6"/>
<path d="M623.5 198.9v2.8"/>
</g>
<text x="558.3" y="202.1" font-size="9.2" text-anchor="end" font-weight="bold" textLength="5.2" lengthAdjust="spacingAndGlyphs" >0</text>
<text x="558.3" y="165.4" font-size="9.2" text-anchor="end" font-weight="bold" textLength="5.2" lengthAdjust="spacingAndGlyphs" >2</text>
<text x="558.3" y="128.7" font-size="9.2" text-anchor="end" font-weight="bold" textLength="5.2" lengthAdjust="spacingAndGlyphs" >4</text>
<text x="558.3" y="92.1" font-size="9.2" text-anchor="end" font-weight="bold" textLength="5.2" lengthAdjust="spacingAndGlyphs" >6</text>
<text x="558.3" y="55.4" font-size="9.2" text-anchor="end" font-weight="bold" textLength="5.2" lengthAdjust="spacingAndGlyphs" >8</text>
<rect x="569.3" y="90.5" width="36.5" height="108.4" fill="#1e90ff" stroke="#000" stroke-width="1.4"/>
<rect x="605.8" y="149.5" width="36.6" height="49.4" fill="#ff4500" stroke="#000" stroke-width="1.4"/>
<path d="M587.7 83.4V97.2" stroke="#000" stroke-width="1.7" fill="none"/><path d="M585.5 83.4h4.4M585.5 97.2h4.4" stroke="#000" stroke-width="1.2" fill="none"/>
<path d="M624.3 139.1V160.3" stroke="#000" stroke-width="1.7" fill="none"/><path d="M622.1 139.1h4.4M622.1 160.3h4.4" stroke="#000" stroke-width="1.2" fill="none"/>
<text x="621.5" y="213.7" font-size="10.1" text-anchor="middle" font-weight="bold" textLength="27.6" lengthAdjust="spacingAndGlyphs" >Delhi</text>
<g transform="translate(546.9 112.7) rotate(-90)"><text x="0" y="0" font-size="9.6" font-weight="bold" text-anchor="middle" textLength="72.5" lengthAdjust="spacingAndGlyphs">pCl<tspan dy="-3.3" font-size="6.8">−</tspan><tspan dy="3.3"> (µg m</tspan><tspan dy="-3.3" font-size="6.8">−3</tspan><tspan dy="3.3">)</tspan></text></g>
<g stroke="#000" stroke-width="1.05" fill="none">
<path d="M563.6 221.7V393.5H677.6"/>
<path d="M560.8 393.5H563.6"/>
<path d="M560.8 363.8H563.6"/>
<path d="M560.8 334.1H563.6"/>
<path d="M560.8 304.4H563.6"/>
<path d="M560.8 274.7H563.6"/>
<path d="M560.8 245.0H563.6"/>
<path d="M621.0 393.5v2.8"/>
</g>
<text x="558.3" y="396.5" font-size="8.7" text-anchor="end" font-weight="bold" textLength="4.9" lengthAdjust="spacingAndGlyphs" >0</text>
<text x="558.3" y="366.8" font-size="8.7" text-anchor="end" font-weight="bold" textLength="4.9" lengthAdjust="spacingAndGlyphs" >5</text>
<text x="558.3" y="337.1" font-size="8.7" text-anchor="end" font-weight="bold" textLength="10.5" lengthAdjust="spacingAndGlyphs" >10</text>
<text x="558.3" y="307.4" font-size="8.7" text-anchor="end" font-weight="bold" textLength="10.5" lengthAdjust="spacingAndGlyphs" >15</text>
<text x="558.3" y="277.7" font-size="8.7" text-anchor="end" font-weight="bold" textLength="10.5" lengthAdjust="spacingAndGlyphs" >20</text>
<text x="558.3" y="248.0" font-size="8.7" text-anchor="end" font-weight="bold" textLength="10.5" lengthAdjust="spacingAndGlyphs" >25</text>
<rect x="568.6" y="288.5" width="34.9" height="105.0" fill="#1e90ff" stroke="#000" stroke-width="1.4"/>
<rect x="603.5" y="340.5" width="34.5" height="53.0" fill="#ff4500" stroke="#000" stroke-width="1.4"/>
<path d="M586.0 279.4V297.2" stroke="#000" stroke-width="1.7" fill="none"/><path d="M583.8 279.4h4.4M583.8 297.2h4.4" stroke="#000" stroke-width="1.2" fill="none"/>
<path d="M621.0 327.8V352.9" stroke="#000" stroke-width="1.7" fill="none"/><path d="M618.8 327.8h4.4M618.8 352.9h4.4" stroke="#000" stroke-width="1.2" fill="none"/>
<text x="620.5" y="406.2" font-size="9.9" text-anchor="middle" font-weight="bold" textLength="38.1" lengthAdjust="spacingAndGlyphs" >Kanpur</text>
<g transform="translate(541.0 308.0) rotate(-90)"><text x="0" y="0" font-size="9.6" font-weight="bold" text-anchor="middle" textLength="71.8" lengthAdjust="spacingAndGlyphs">pCl<tspan dy="-3.3" font-size="6.8">−</tspan><tspan dy="3.3"> (µg m</tspan><tspan dy="-3.3" font-size="6.8">−3</tspan><tspan dy="3.3">)</tspan></text></g>
<rect x="540.6" y="464.5" width="138.3" height="79.9" fill="#fff" stroke="#000" stroke-width="1"/>
<rect x="547" y="472.6" width="26.4" height="11.9" fill="#1e90ff" stroke="#000" stroke-width="1"/>
<text x="581.6" y="484.2" font-size="13.6" text-anchor="start" font-weight="normal" textLength="74.6" lengthAdjust="spacingAndGlyphs" >Observation</text>
<rect x="547" y="496.9" width="26.4" height="11.9" fill="#ff4500" stroke="#000" stroke-width="1"/>
<text x="581.6" y="508.6" font-size="13.6" text-anchor="start" font-weight="normal" textLength="84.0" lengthAdjust="spacingAndGlyphs" >Wi-AnthroHCl</text>
<rect x="547" y="521.5" width="26.4" height="11.9" fill="#228b22" stroke="#000" stroke-width="1"/>
<text x="581.6" y="533.0" font-size="13.6" text-anchor="start" font-weight="normal" textLength="88.7" lengthAdjust="spacingAndGlyphs" >Wo-AnthroHCl</text>
<path d="M538.9 75.2L292.5 145.4" stroke="#000" stroke-width="1.25" fill="none"/><path d="M288.7 146.5L292.7 142.4L294.3 147.8Z" fill="#000"/>
<path d="M547.5 267.5L332.6 172.1" stroke="#000" stroke-width="1.25" fill="none"/><path d="M328.9 170.5L334.6 170.0L332.3 175.1Z" fill="#000"/>
<path d="M119.1 109.1L227.7 204.1" stroke="#000" stroke-width="1.25" fill="none"/><path d="M230.7 206.7L225.1 205.5L228.8 201.3Z" fill="#000"/>
<path d="M123.1 341.2L247.3 278.8" stroke="#000" stroke-width="1.25" fill="none"/><path d="M250.9 277.0L247.7 281.7L245.2 276.7Z" fill="#000"/>
<path d="M238.6 428.7L279.6 349.6" stroke="#000" stroke-width="1.25" fill="none"/><path d="M281.4 346.0L281.6 351.7L276.6 349.2Z" fill="#000"/>
<path d="M387.0 423.9L319.3 316.1" stroke="#000" stroke-width="1.25" fill="none"/><path d="M317.2 312.7L322.2 315.4L317.5 318.4Z" fill="#000"/>
</svg>
</body></html>
